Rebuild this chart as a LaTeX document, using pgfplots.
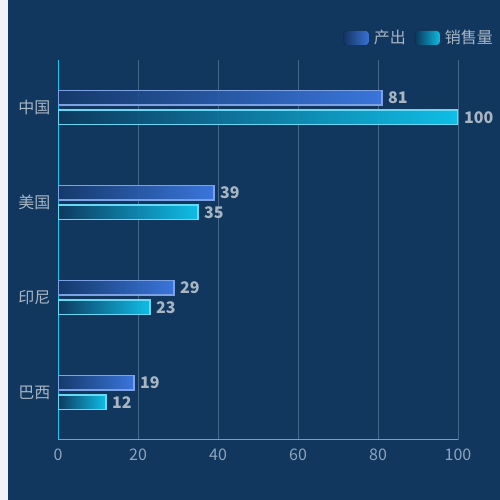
\documentclass[border=0pt]{standalone}
\usepackage{fontspec}
\setmainfont{Noto Sans CJK SC}
\usepackage{pgfplots}
\pgfplotsset{compat=1.18}
\definecolor{bg}{HTML}{12375E}
\definecolor{strip}{HTML}{F0F2F7}
\definecolor{axc}{HTML}{1CC6F0}
\definecolor{gridc}{HTML}{46678A}
\definecolor{tickc}{HTML}{8EA4BB}
\definecolor{catc}{HTML}{A7B5C4}
\definecolor{valc}{HTML}{B5C0CC}
\definecolor{oa}{HTML}{163A6C}
\definecolor{ob}{HTML}{3E7BE6}
\definecolor{od}{HTML}{7CA2E4}
\definecolor{sa}{HTML}{0E3A60}
\definecolor{sb}{HTML}{0FCAF2}
\definecolor{sd}{HTML}{6AD8F4}
\pgfplotsset{
  outbar/.style={xbar, left color=oa, right color=ob, draw=od, line width=1.5pt,
    fill opacity=0.92, bar shift=9.75pt,
    legend image code/.code={\fill[draw=none, left color=oa, right color=ob, rounded corners=3pt] (0pt,-7pt) rectangle (25pt,7pt);}},
  salebar/.style={xbar, left color=sa, right color=sb, draw=sd, line width=1.5pt,
    fill opacity=0.92, bar shift=-9.75pt,
    legend image code/.code={\fill[draw=none, left color=sa, right color=sb, rounded corners=3pt] (0pt,-7pt) rectangle (25pt,7pt);}},
}
\begin{document}
\fontsize{16pt}{19pt}\selectfont
\begin{tikzpicture}[x=1pt,y=1pt]
\useasboundingbox (0,0) rectangle (500,500);
\fill[strip] (0,0) rectangle (500,500);
\fill[bg] (8,0) rectangle (500,500);
\begin{axis}[
  at={(58pt,60pt)}, anchor=south west,
  scale only axis, width=400pt, height=380pt,
  xmin=0, xmax=100, ymin=-0.5, ymax=3.5,
  xtick={0,20,40,60,80,100},
  ytick={0,1,2,3}, yticklabels={巴西,印尼,美国,中国},
  axis x line*=bottom, axis y line*=left,
  axis line style={draw=axc, line width=1pt},
  xmajorgrids, grid style={draw=gridc, line width=0.8pt},
  major tick length=0pt,
  /pgf/number format/assume math mode=true,
  xticklabel style={text=tickc, font=\fontsize{16pt}{19pt}\selectfont, yshift=-3pt},
  yticklabel style={text=catc, font=\fontsize{16pt}{19pt}\selectfont, xshift=-2pt},
  xbar, bar width=14.5pt,
  point meta=x,
  nodes near coords,
  nodes near coords style={text=valc, font=\fontsize{16pt}{19pt}\selectfont\bfseries},
  legend columns=2,
  legend style={at={(1.1,1.058)}, anchor=east, draw=none, fill=none,
    text=catc, font=\fontsize{16pt}{19pt}\selectfont,
    /tikz/every odd column/.append style={column sep=3pt},
    /tikz/every even column/.append style={column sep=7pt}},
]
% 产出
\addplot[outbar] coordinates {(81,3)};
\addlegendentry{产出}
% 销售量
\addplot[salebar] coordinates {(100,3)};
\addlegendentry{销售量}
\addplot[outbar, forget plot] coordinates {(39,2)};
\addplot[outbar, forget plot] coordinates {(29,1)};
\addplot[outbar, forget plot] coordinates {(19,0)};
\addplot[salebar, forget plot] coordinates {(35,2)};
\addplot[salebar, forget plot] coordinates {(23,1)};
\addplot[salebar, forget plot] coordinates {(12,0)};
\end{axis}
\end{tikzpicture}
\end{document}
